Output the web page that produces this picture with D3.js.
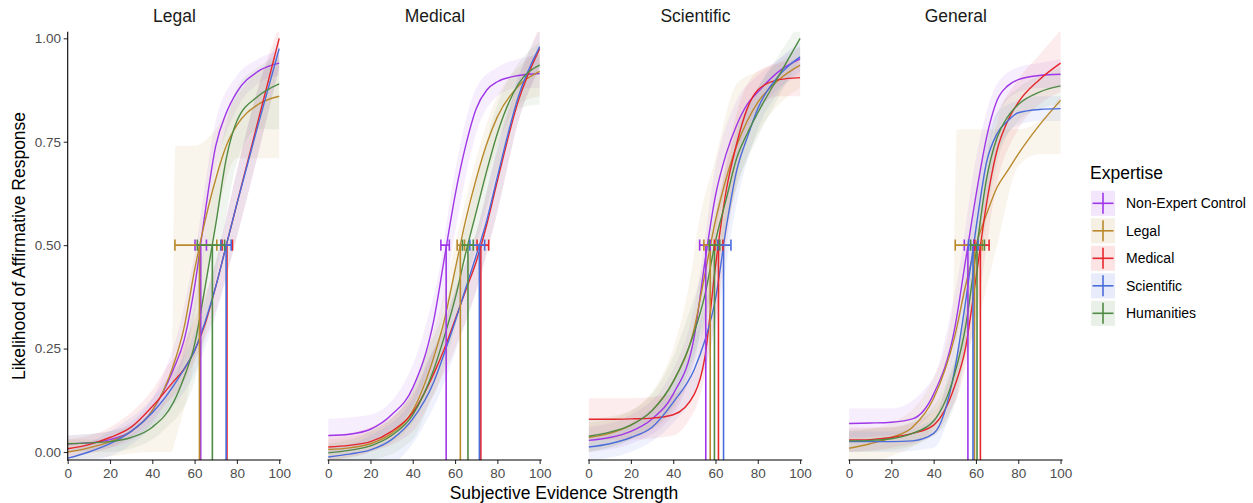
<!DOCTYPE html>
<html>
<head>
<meta charset="utf-8">
<script src="https://cdn.jsdelivr.net/npm/d3@7"></script>
<style>
  body { margin: 0; background: #fff; }
  svg { display: block; font-family: "Liberation Sans", Arial, sans-serif; }
</style>
</head>
<body>
<svg id="chart" width="1253" height="503"></svg>
<script>
// ---- data ----
const panels = ["Legal", "Medical", "Scientific", "General"];
const groups = ["Non-Expert Control", "Legal", "Medical", "Scientific", "Humanities"];
const groupColors = ["#9F36E8", "#B9892B", "#E6262B", "#4B6CDB", "#4E8B44"];
const xTicks = [0, 20, 40, 60, 80, 100];
const yTicks = [0, 0.25, 0.5, 0.75, 1];

// evidence strength grid for the fitted curves
const curveX = [0, 10, 20, 30, 40, 50, 55, 60, 65, 70, 75, 80, 90, 100];
// evidence strength grid for the confidence bands
const bandX = [0, 20, 40, 49, 51, 60, 70, 80, 90, 100];

// fitted probability of an affirmative response (rows follow `groups`)
const legalFit = [
  [0.02, 0.022, 0.03, 0.05, 0.10, 0.20, 0.27, 0.40, 0.58, 0.74, 0.82, 0.87, 0.92, 0.94],
  [0.0, 0.01, 0.025, 0.05, 0.10, 0.21, 0.30, 0.44, 0.56, 0.66, 0.74, 0.79, 0.84, 0.86],
  [0.008, 0.018, 0.035, 0.06, 0.11, 0.17, 0.20, 0.245, 0.31, 0.40, 0.50, 0.60, 0.80, 1.0],
  [-0.015, 0.0, 0.02, 0.05, 0.095, 0.16, 0.20, 0.245, 0.315, 0.40, 0.50, 0.60, 0.79, 0.975],
  [0.02, 0.022, 0.025, 0.035, 0.06, 0.12, 0.18, 0.26, 0.40, 0.55, 0.71, 0.80, 0.86, 0.89]
];
const medicalFit = [
  [0.04, 0.043, 0.055, 0.09, 0.155, 0.32, 0.47, 0.62, 0.74, 0.83, 0.875, 0.895, 0.91, 0.915],
  [0.006, 0.01, 0.02, 0.045, 0.10, 0.23, 0.32, 0.44, 0.56, 0.66, 0.745, 0.81, 0.885, 0.92],
  [0.012, 0.016, 0.025, 0.05, 0.095, 0.19, 0.25, 0.32, 0.39, 0.46, 0.55, 0.655, 0.85, 0.975],
  [-0.012, -0.005, 0.005, 0.03, 0.08, 0.17, 0.24, 0.315, 0.395, 0.475, 0.56, 0.665, 0.86, 0.98],
  [-0.002, 0.004, 0.015, 0.04, 0.09, 0.20, 0.28, 0.37, 0.48, 0.58, 0.68, 0.77, 0.89, 0.935]
];
const scientificFit = [
  [0.028, 0.035, 0.05, 0.08, 0.14, 0.28, 0.46, 0.62, 0.72, 0.79, 0.84, 0.87, 0.92, 0.95],
  [0.035, 0.045, 0.065, 0.10, 0.17, 0.30, 0.43, 0.56, 0.66, 0.74, 0.80, 0.845, 0.90, 0.935],
  [0.079, 0.079, 0.08, 0.082, 0.09, 0.14, 0.23, 0.45, 0.63, 0.745, 0.83, 0.875, 0.90, 0.905],
  [0.012, 0.02, 0.035, 0.06, 0.12, 0.20, 0.27, 0.37, 0.54, 0.68, 0.76, 0.83, 0.91, 0.955],
  [0.038, 0.048, 0.065, 0.10, 0.17, 0.29, 0.38, 0.51, 0.61, 0.71, 0.77, 0.82, 0.91, 1.0]
];
const generalFit = [
  [0.069, 0.07, 0.072, 0.08, 0.14, 0.30, 0.46, 0.62, 0.76, 0.85, 0.885, 0.90, 0.91, 0.913],
  [0.009, 0.02, 0.035, 0.06, 0.13, 0.28, 0.40, 0.50, 0.575, 0.64, 0.68, 0.72, 0.79, 0.85],
  [0.029, 0.03, 0.035, 0.045, 0.065, 0.16, 0.25, 0.42, 0.60, 0.73, 0.80, 0.845, 0.90, 0.94],
  [0.025, 0.025, 0.025, 0.027, 0.045, 0.20, 0.36, 0.54, 0.70, 0.77, 0.80, 0.82, 0.828, 0.83],
  [0.027, 0.028, 0.032, 0.045, 0.075, 0.19, 0.30, 0.48, 0.66, 0.76, 0.81, 0.84, 0.87, 0.885]
];

// confidence band limits on bandX
const legalLower = [
  [0.0, 0.01, 0.07, 0.15, 0.17, 0.33, 0.68, 0.83, 0.89, 0.91],
  [-0.02, -0.01, 0.0, 0.0, 0.03, 0.22, 0.55, 0.71, 0.71, 0.71],
  [-0.01, 0.01, 0.08, 0.13, 0.14, 0.22, 0.34, 0.52, 0.72, 0.93],
  [-0.03, -0.01, 0.06, 0.11, 0.12, 0.19, 0.33, 0.52, 0.72, 0.93],
  [0.0, 0.0, 0.03, 0.07, 0.08, 0.17, 0.42, 0.70, 0.78, 0.78]
];
const legalUpper = [
  [0.04, 0.05, 0.13, 0.24, 0.27, 0.48, 0.80, 0.91, 0.95, 0.97],
  [0.03, 0.03, 0.08, 0.17, 0.74, 0.74, 0.78, 0.86, 0.92, 0.95],
  [0.03, 0.06, 0.15, 0.22, 0.23, 0.32, 0.46, 0.68, 0.88, 1.03],
  [0.0, 0.05, 0.13, 0.19, 0.20, 0.29, 0.46, 0.68, 0.88, 1.0],
  [0.04, 0.05, 0.10, 0.16, 0.18, 0.36, 0.67, 0.88, 0.93, 0.96]
];
const medicalLower = [
  [0.0, 0.02, 0.11, 0.22, 0.25, 0.53, 0.77, 0.86, 0.88, 0.88],
  [-0.02, 0.0, 0.07, 0.16, 0.18, 0.37, 0.57, 0.74, 0.84, 0.86],
  [-0.02, 0.0, 0.05, 0.13, 0.15, 0.25, 0.39, 0.58, 0.80, 0.93],
  [-0.03, -0.05, 0.02, 0.10, 0.12, 0.24, 0.39, 0.58, 0.80, 0.93],
  [-0.03, -0.02, 0.03, 0.13, 0.15, 0.30, 0.50, 0.68, 0.83, 0.84]
];
const medicalUpper = [
  [0.08, 0.09, 0.21, 0.36, 0.40, 0.68, 0.88, 0.93, 0.95, 0.96],
  [0.03, 0.05, 0.15, 0.28, 0.31, 0.50, 0.71, 0.86, 0.93, 0.97],
  [0.04, 0.06, 0.14, 0.24, 0.26, 0.39, 0.53, 0.73, 0.90, 1.03],
  [0.01, 0.04, 0.13, 0.24, 0.26, 0.39, 0.53, 0.74, 0.91, 1.02],
  [0.02, 0.05, 0.15, 0.27, 0.29, 0.44, 0.65, 0.84, 0.94, 0.99]
];
const scientificLower = [
  [0.0, 0.02, 0.09, 0.20, 0.24, 0.53, 0.72, 0.82, 0.88, 0.91],
  [0.0, 0.03, 0.10, 0.20, 0.23, 0.42, 0.64, 0.77, 0.84, 0.88],
  [0.03, 0.03, 0.04, 0.09, 0.11, 0.32, 0.66, 0.83, 0.86, 0.86],
  [-0.02, 0.0, 0.07, 0.13, 0.15, 0.30, 0.60, 0.78, 0.87, 0.92],
  [0.0, 0.03, 0.11, 0.22, 0.25, 0.43, 0.64, 0.76, 0.86, 0.95]
];
const scientificUpper = [
  [0.06, 0.09, 0.20, 0.33, 0.38, 0.69, 0.85, 0.91, 0.95, 0.98],
  [0.07, 0.10, 0.25, 0.45, 0.52, 0.71, 0.89, 0.92, 0.94, 0.98],
  [0.13, 0.13, 0.14, 0.19, 0.22, 0.55, 0.82, 0.92, 0.94, 0.95],
  [0.04, 0.07, 0.17, 0.26, 0.29, 0.45, 0.76, 0.88, 0.95, 0.99],
  [0.08, 0.10, 0.23, 0.36, 0.39, 0.58, 0.78, 0.88, 0.96, 1.04]
];
const generalLower = [
  [0.035, 0.04, 0.10, 0.23, 0.28, 0.52, 0.81, 0.87, 0.88, 0.88],
  [-0.03, -0.01, 0.06, 0.15, 0.18, 0.30, 0.50, 0.69, 0.72, 0.72],
  [0.0, 0.01, 0.04, 0.11, 0.13, 0.33, 0.65, 0.78, 0.84, 0.87],
  [0.0, 0.0, 0.01, 0.11, 0.14, 0.46, 0.72, 0.79, 0.80, 0.80],
  [0.0, 0.005, 0.04, 0.10, 0.13, 0.40, 0.70, 0.80, 0.83, 0.84]
];
const generalUpper = [
  [0.105, 0.105, 0.18, 0.36, 0.41, 0.71, 0.89, 0.93, 0.94, 0.95],
  [0.05, 0.07, 0.18, 0.35, 0.78, 0.78, 0.78, 0.78, 0.80, 0.86],
  [0.06, 0.06, 0.10, 0.20, 0.23, 0.50, 0.80, 0.90, 0.96, 1.02],
  [0.05, 0.05, 0.08, 0.24, 0.29, 0.62, 0.82, 0.85, 0.86, 0.86],
  [0.055, 0.06, 0.11, 0.21, 0.24, 0.55, 0.82, 0.88, 0.91, 0.93]
];

// evidence strength at which each group reaches 50%, with its interval
const legalThreshold = [62.9, 62.3, 75.3, 74.9, 68.4];
const legalCiLow = [60.2, 50.7, 73.0, 72.4, 61.3];
const legalCiHigh = [65.6, 70.5, 77.9, 77.3, 74.2];
const medicalThreshold = [55.8, 62.5, 72.2, 71.5, 66.1];
const medicalCiLow = [53.3, 61.0, 70.4, 67.0, 63.5];
const medicalCiHigh = [57.3, 64.5, 75.9, 74.0, 68.6];
const scientificThreshold = [55.4, 57.5, 61.4, 63.8, 59.5];
const scientificCiLow = [52.5, 54.5, 59.5, 61.0, 57.0];
const scientificCiHigh = [57.5, 60.0, 63.5, 67.3, 62.0];
const generalThreshold = [56.2, 59.3, 62.1, 58.6, 60.5];
const generalCiLow = [54.5, 50.2, 59.5, 56.5, 57.5];
const generalCiHigh = [59.0, 63.0, 66.2, 61.0, 64.0];

const panelSets = [
  { fit: legalFit, lower: legalLower, upper: legalUpper, thr: legalThreshold, lo: legalCiLow, hi: legalCiHigh },
  { fit: medicalFit, lower: medicalLower, upper: medicalUpper, thr: medicalThreshold, lo: medicalCiLow, hi: medicalCiHigh },
  { fit: scientificFit, lower: scientificLower, upper: scientificUpper, thr: scientificThreshold, lo: scientificCiLow, hi: scientificCiHigh },
  { fit: generalFit, lower: generalLower, upper: generalUpper, thr: generalThreshold, lo: generalCiLow, hi: generalCiHigh }
];

// ---- layout ----
const svg = d3.select("#chart");
const firstLeft = 67.7, panelStep = 260.45, unitWidth = 2.115;
const plotTop = 31.7, plotBottom = 460;
const y = d3.scaleLinear().domain([0, 1]).range([452, 38.3]);
const defs = svg.append("defs");
const bandAlpha = 0.085;

panels.forEach((name, i) => {
  const set = panelSets[i];
  const left = firstLeft + i * panelStep;
  const x = d3.scaleLinear().domain([0, 101]).range([left, left + 101 * unitWidth]);

  defs.append("clipPath").attr("id", "panel-clip-" + i)
    .append("rect")
    .attr("x", x(0)).attr("y", plotTop)
    .attr("width", x(101) - x(0)).attr("height", plotBottom - plotTop);

  const g = svg.append("g");
  const plot = g.append("g").attr("clip-path", `url(#panel-clip-${i})`);

  // confidence bands
  const area = d3.area()
    .x((d, j) => x(bandX[j]))
    .y0(d => y(d[0]))
    .y1(d => y(d[1]))
    .curve(d3.curveMonotoneX);
  groups.forEach((gn, k) => {
    const pts = bandX.map((bx, j) => [set.lower[k][j], set.upper[k][j]]);
    plot.append("path")
      .attr("d", area(pts))
      .attr("fill", groupColors[k])
      .attr("fill-opacity", bandAlpha);
  });

  // fitted curves
  const line = d3.line()
    .x((d, j) => x(curveX[j]))
    .y(d => y(d))
    .curve(d3.curveMonotoneX);
  groups.forEach((gn, k) => {
    plot.append("path")
      .attr("d", line(set.fit[k]))
      .attr("fill", "none")
      .attr("stroke", groupColors[k])
      .attr("stroke-width", 1.4);
  });

  // 50% threshold drop lines
  groups.forEach((gn, k) => {
    plot.append("line")
      .attr("x1", x(set.thr[k])).attr("x2", x(set.thr[k]))
      .attr("y1", y(0.5)).attr("y2", plotBottom)
      .attr("stroke", groupColors[k])
      .attr("stroke-width", 1.6);
  });

  // threshold intervals
  const capHalf = 5.6;
  groups.forEach((gn, k) => {
    const eb = plot.append("g")
      .attr("stroke", groupColors[k])
      .attr("stroke-width", 1.6)
      .attr("fill", "none");
    eb.append("line")
      .attr("x1", x(set.lo[k])).attr("x2", x(set.hi[k]))
      .attr("y1", y(0.5)).attr("y2", y(0.5));
    [set.lo[k], set.hi[k]].forEach(v => {
      eb.append("line")
        .attr("x1", x(v)).attr("x2", x(v))
        .attr("y1", y(0.5) - capHalf).attr("y2", y(0.5) + capHalf);
    });
  });

  // x axis
  const xAxis = d3.axisBottom(x).tickValues(xTicks).tickSize(4).tickSizeOuter(0).tickPadding(4.4);
  const xa = g.append("g").attr("transform", `translate(0,${plotBottom})`).call(xAxis);
  xa.select(".domain").remove();
  xa.append("line")
    .attr("x1", x(0) - 0.6).attr("x2", x(101)).attr("y1", 0).attr("y2", 0)
    .attr("stroke", "#000").attr("stroke-width", 1.1);
  xa.selectAll(".tick line").attr("stroke", "#333").attr("stroke-width", 1.1);
  xa.selectAll(".tick text")
    .attr("fill", "#4d4d4d")
    .style("font-size", "13.5px")
    .style("font-family", "'Liberation Sans', Arial, sans-serif");

  // facet title
  g.append("text")
    .attr("x", (x(0) + x(101)) / 2)
    .attr("y", 22)
    .attr("text-anchor", "middle")
    .attr("fill", "#1a1a1a")
    .style("font-size", "17.5px")
    .text(name);

  // y axis on the first panel only
  if (i === 0) {
    const yAxis = d3.axisLeft(y).tickValues(yTicks).tickFormat(d3.format(".2f"))
      .tickSize(4).tickSizeOuter(0).tickPadding(2.7);
    const ya = g.append("g").attr("transform", `translate(${x(0)},0)`).call(yAxis);
    ya.select(".domain").remove();
    ya.append("line")
      .attr("x1", 0).attr("x2", 0).attr("y1", plotTop).attr("y2", plotBottom + 0.55)
      .attr("stroke", "#000").attr("stroke-width", 1.1);
    ya.selectAll(".tick line").attr("stroke", "#333").attr("stroke-width", 1.1);
    ya.selectAll(".tick text")
      .attr("fill", "#4d4d4d")
      .style("font-size", "13.5px")
      .style("font-family", "'Liberation Sans', Arial, sans-serif");
  }
});

// axis titles
svg.append("text")
  .attr("x", 564).attr("y", 499)
  .attr("text-anchor", "middle")
  .attr("fill", "#000")
  .style("font-size", "17.5px")
  .text("Subjective Evidence Strength");

svg.append("text")
  .attr("transform", "translate(25,246) rotate(-90)")
  .attr("text-anchor", "middle")
  .attr("fill", "#000")
  .style("font-size", "17.5px")
  .text("Likelihood of Affirmative Response");

// legend
const legend = svg.append("g").attr("transform", "translate(1090,0)");
legend.append("text")
  .attr("x", 0).attr("y", 178.5)
  .attr("fill", "#000")
  .style("font-size", "17.5px")
  .text("Expertise");

groups.forEach((gn, k) => {
  const top = 190.8 + k * 27.5;
  const row = legend.append("g").attr("transform", `translate(0,${top})`);
  row.append("rect")
    .attr("x", 1).attr("y", 0).attr("width", 24).attr("height", 25)
    .attr("fill", groupColors[k]).attr("fill-opacity", 0.13);
  row.append("line")
    .attr("x1", 2.5).attr("x2", 23.5).attr("y1", 12.5).attr("y2", 12.5)
    .attr("stroke", groupColors[k]).attr("stroke-width", 1.6);
  row.append("line")
    .attr("x1", 13).attr("x2", 13).attr("y1", 2).attr("y2", 23)
    .attr("stroke", groupColors[k]).attr("stroke-width", 1.6);
  row.append("text")
    .attr("x", 36).attr("y", 12.5 + 5)
    .attr("fill", "#000")
    .style("font-size", "14px")
    .text(gn);
});
</script>
</body>
</html>
